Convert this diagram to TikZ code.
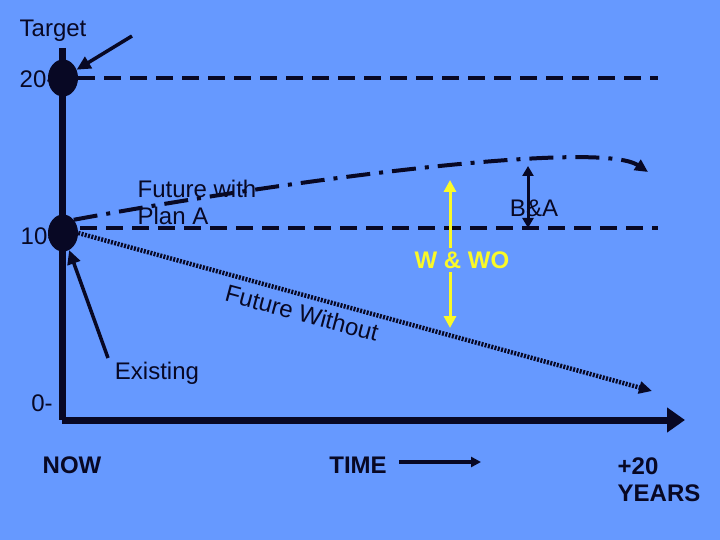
\documentclass[tikz,border=0pt]{standalone}
\usepackage{fontspec}
\setmainfont{Liberation Sans}
\usepackage{xcolor}
\usepackage{tikz}
\usetikzlibrary{shapes.geometric, arrows.meta, positioning}
\definecolor{slideblue}{RGB}{102, 153, 255}
\definecolor{inkdark}{RGB}{8, 8, 36}
\definecolor{markyellow}{RGB}{250, 250, 40}

\begin{document}
\begin{tikzpicture}[
    x=1pt, y=-1pt,
    lbl/.style={font=\fontsize{24}{27}\selectfont, text=inkdark, inner sep=1pt},
    boldlbl/.style={lbl, font=\fontsize{24}{27}\selectfont\bfseries},
    marker/.style={ellipse, fill=inkdark, draw=none, minimum width=30pt, minimum height=37pt, inner sep=0pt},
    level/.style={draw=inkdark, line width=4pt, dash pattern=on 17pt off 9pt},
    pointer/.style={draw=inkdark, line width=3.5pt, -{Triangle[length=14pt, width=13pt]}},
]
    % Background
    \fill[slideblue] (0,0) rectangle (720,540);
    \useasboundingbox (0,0) rectangle (720,540);

    % Axes
    \coordinate (origin) at (62,420);
    \coordinate (ytop) at (62,48);
    \coordinate (xend) at (685,420);
    \draw[inkdark, line width=7pt] (ytop) -- (origin);
    \draw[inkdark, line width=7pt, -{Triangle[length=18pt, width=24pt]}] (origin) -- (xend);

    % Level markers
    \node[marker] (c20) at (63,78) {};
    \node[marker] (c10) at (63,233) {};
    \node[lbl] (lab20) at (37,79) {20-};
    \node[lbl] (lab10) at (38,236) {10-};
    \node[lbl] (lab0) at (42,403) {0-};

    % Target and existing levels
    \coordinate (t20end) at (658,78);
    \coordinate (t10start) at (80,228);
    \coordinate (t10end) at (658,228);
    \draw[level] (c20.east) -- (t20end);
    \draw[level] (t10start) -- (t10end);

    % Future with Plan A
    \coordinate (withend) at (648,172);
    \draw[draw=inkdark, line width=4pt, dash pattern=on 24pt off 9pt on 4pt off 9pt,
          -{Triangle[length=13pt, width=12pt]}]
        (c10.north east) .. controls (300,178) and (600,140) .. (withend);
    \node[lbl, align=left] (planA) at (197,202) {Future with\\Plan A};

    % Future without
    \coordinate (withoutend) at (652,391);
    \draw[draw=inkdark, line width=4.5pt, dash pattern=on 2pt off 1.4pt,
          -{Triangle[length=13pt, width=12pt]}]
        (c10.east) -- (withoutend);
    \node[lbl, rotate=-15] (without) at (302,313) {Future Without};

    % W & WO difference
    \node[boldlbl, text=markyellow, inner sep=3pt] (wwo) at (462,260) {W \& WO};
    \coordinate (wtop) at (450,180);
    \coordinate (wbot) at (450,328);
    \draw[markyellow, line width=3pt, -{Triangle[length=12pt, width=12pt]}] (wwo.north -| wtop) -- (wtop);
    \draw[markyellow, line width=3pt, -{Triangle[length=12pt, width=12pt]}] (wwo.south -| wbot) -- (wbot);

    % B&A difference
    \coordinate (batop) at (528,166);
    \coordinate (babot) at (528,228);
    \draw[inkdark, line width=3pt, {Triangle[length=10pt, width=11pt]}-{Triangle[length=10pt, width=11pt]}] (babot) -- (batop);
    \node[lbl] (ba) at (534,208) {B\&A};

    % Pointers
    \node[lbl] (target) at (53,31) {Target};
    \coordinate (tgtfoot) at (132,36);
    \draw[pointer] (tgtfoot) -- (c20);
    \node[lbl] (existing) at (157,373) {Existing};
    \coordinate (exfoot) at (108,358);
    \draw[pointer] (exfoot) -- (c10);

    % Time labels
    \node[boldlbl] (now) at (72,465) {NOW};
    \node[boldlbl] (time) at (358,465) {TIME};
    \coordinate (timeend) at (481,462);
    \draw[inkdark, line width=3.5pt, -{Triangle[length=10pt, width=10pt]}] (time.east) ++(11,-3) coordinate (timestart) -- (timeend);
    \node[boldlbl, align=left] (years) at (659,480) {+20\\YEARS};
\end{tikzpicture}
\end{document}
